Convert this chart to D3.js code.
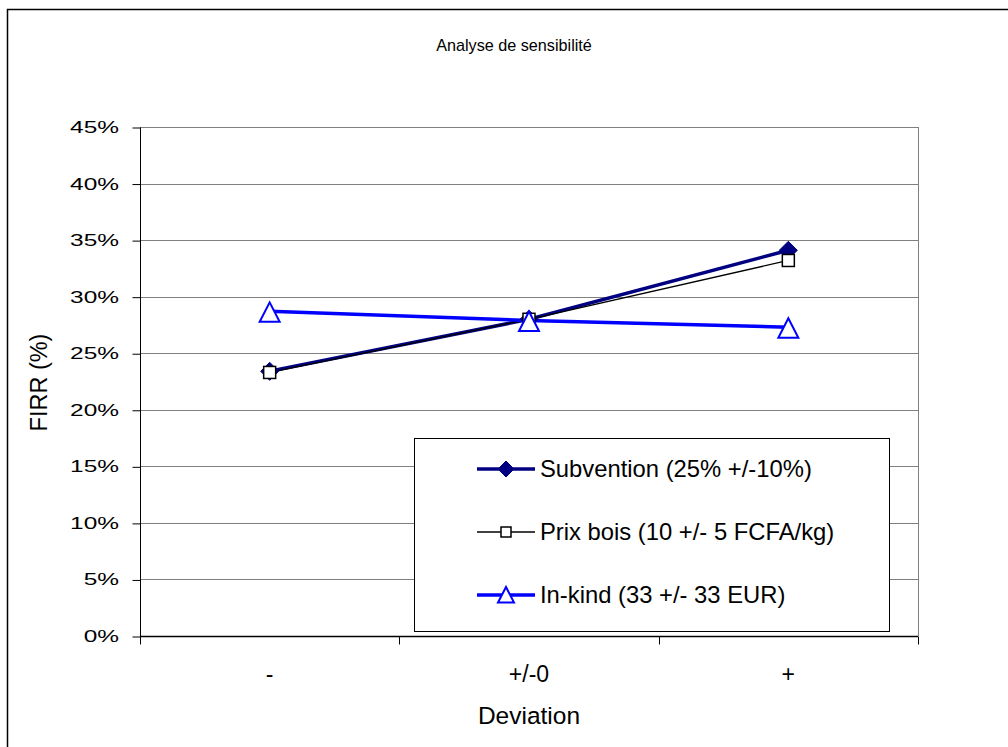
<!DOCTYPE html>
<html><head><meta charset="utf-8">
<script src="https://cdn.jsdelivr.net/npm/d3@7/dist/d3.min.js"></script>
<style>body{margin:0;background:#fff;}svg{display:block;font-family:"Liberation Sans",Arial,sans-serif;}</style>
</head><body>
<svg id="c" width="1008" height="747"></svg>
<script>
const categories = ["-", "+/-0", "+"];
const subvention = [23.4, 28.0, 34.1];
const prixBois = [23.3, 28.0, 33.2];
const inKind = [28.7, 27.9, 27.3];
const yTicks = [0, 5, 10, 15, 20, 25, 30, 35, 40, 45];
const seriesNames = ["Subvention (25% +/-10%)", "Prix bois (10 +/- 5 FCFA/kg)", "In-kind (33 +/- 33 EUR)"];

const svg = d3.select("#c");
const L = 140, R = 918, T = 127, B = 636;
const FONT = "Liberation Sans, Arial, sans-serif";

// outer frame
svg.append("rect").attr("x", 7.5).attr("y", 9.5).attr("width", 1100).attr("height", 800)
  .attr("fill", "none").attr("stroke", "#000").attr("stroke-width", 1.5);

svg.append("text").attr("x", 514).attr("y", 51).attr("text-anchor", "middle")
  .attr("font-size", 16.2).text("Analyse de sensibilité");

const x = d3.scaleBand().domain(categories).range([L, R]);
const y = d3.scaleLinear().domain([0, 45]).range([B, T]);

// gridlines
svg.append("g").selectAll("line").data(yTicks.filter(d => d > 0)).join("line")
  .attr("x1", L).attr("x2", R).attr("y1", d => Math.round(y(d)) + 0.5).attr("y2", d => Math.round(y(d)) + 0.5)
  .attr("stroke", "#808080").attr("stroke-width", 1);
svg.append("line").attr("x1", R + 0.5).attr("x2", R + 0.5).attr("y1", T).attr("y2", B)
  .attr("stroke", "#808080");

// y axis (ticks + line via d3 axis, labels drawn separately with horizontal stretch)
const yAxis = d3.axisLeft(y).tickValues(yTicks).tickFormat("").tickSize(8);
const gy = svg.append("g").attr("transform", `translate(${L + 0.5},0.5)`).call(yAxis);
gy.selectAll("line,path").attr("stroke", "#000");
gy.select(".domain").attr("d", `M0,${T}V${B}`);
svg.append("g").selectAll("g").data(yTicks).join("g")
  .attr("transform", d => `translate(119,${y(d) + 6})`)
  .append("text").attr("text-anchor", "end").attr("font-size", 17).attr("font-family", FONT)
  .attr("transform", "scale(1.44,1)").text(d => d + "%");

// x axis
const xAxis = d3.axisBottom(x).tickSize(0).tickPadding(29);
const gx = svg.append("g").attr("transform", `translate(0,${B + 0.5})`).call(xAxis);
gx.selectAll("text").attr("font-size", 23).attr("fill", "#000").attr("font-family", FONT);
gx.select(".domain").attr("stroke", "#000").attr("stroke-width", 1.5).attr("d", `M${L},0H${R}`);
const bounds = [L, ...categories.map(c => x(c) + x.bandwidth())];
gx.selectAll(".bt").data(bounds).join("line").attr("class", "bt")
  .attr("x1", d => Math.round(d) + 0.5).attr("x2", d => Math.round(d) + 0.5).attr("y1", 0).attr("y2", 8)
  .attr("stroke", "#000");

// axis titles
svg.append("text").attr("transform", `translate(47,${(T + B) / 2 + 1}) rotate(-90)`)
  .attr("text-anchor", "middle").attr("font-size", 23.5).text("FIRR (%)");
svg.append("text").attr("x", (L + R) / 2).attr("y", 724).attr("text-anchor", "middle")
  .attr("font-size", 24.5).text("Deviation");

const cx = c => x(c) + x.bandwidth() / 2;
const line = d3.line().x((d, i) => cx(categories[i])).y(d => y(d));

const diamond = (g, px, py, s) => g.append("path")
  .attr("d", `M${px},${py - s}L${px + s},${py}L${px},${py + s}L${px - s},${py}Z`)
  .attr("fill", "#000080").attr("stroke", "#000080");
const square = (g, px, py, s) => g.append("rect")
  .attr("x", px - s).attr("y", py - s).attr("width", 2 * s).attr("height", 2 * s)
  .attr("fill", "#fff").attr("stroke", "#000").attr("stroke-width", 1.5);
const tri = (g, px, py, s) => g.append("path")
  .attr("d", `M${px},${py - s}L${px + s},${py + s * 0.95}L${px - s},${py + s * 0.95}Z`)
  .attr("fill", "#fff").attr("stroke", "#0000FF").attr("stroke-width", 2);

const plot = svg.append("g");
plot.append("path").datum(subvention).attr("d", line).attr("fill", "none").attr("stroke", "#000080").attr("stroke-width", 3.5);
plot.append("path").datum(prixBois).attr("d", line).attr("fill", "none").attr("stroke", "#000").attr("stroke-width", 1.3);
plot.append("path").datum(inKind).attr("d", line).attr("fill", "none").attr("stroke", "#0000FF").attr("stroke-width", 3.5);
subvention.forEach((v, i) => diamond(plot, cx(categories[i]), y(v), 9));
prixBois.forEach((v, i) => square(plot, cx(categories[i]), y(v), 6));
inKind.forEach((v, i) => tri(plot, cx(categories[i]), y(v) + 1, 10));

// legend
const lg = svg.append("g");
lg.append("rect").attr("x", 414.5).attr("y", 438.5).attr("width", 475).attr("height", 193)
  .attr("fill", "#fff").attr("stroke", "#000").attr("stroke-width", 1);
const rows = [469, 532, 595];
const colors = ["#000080", "#000", "#0000FF"];
const widths = [3.5, 1.3, 3.5];
rows.forEach((ry, i) => {
  lg.append("line").attr("x1", 477).attr("x2", 535).attr("y1", ry).attr("y2", ry)
    .attr("stroke", colors[i]).attr("stroke-width", widths[i]);
  if (i === 0) diamond(lg, 506, ry, 8);
  if (i === 1) square(lg, 506, ry, 5);
  if (i === 2) tri(lg, 506, ry, 8);
  lg.append("text").attr("x", 540).attr("y", ry + 8).attr("font-size", 23.8).text(seriesNames[i]);
});
</script>
</body></html>
